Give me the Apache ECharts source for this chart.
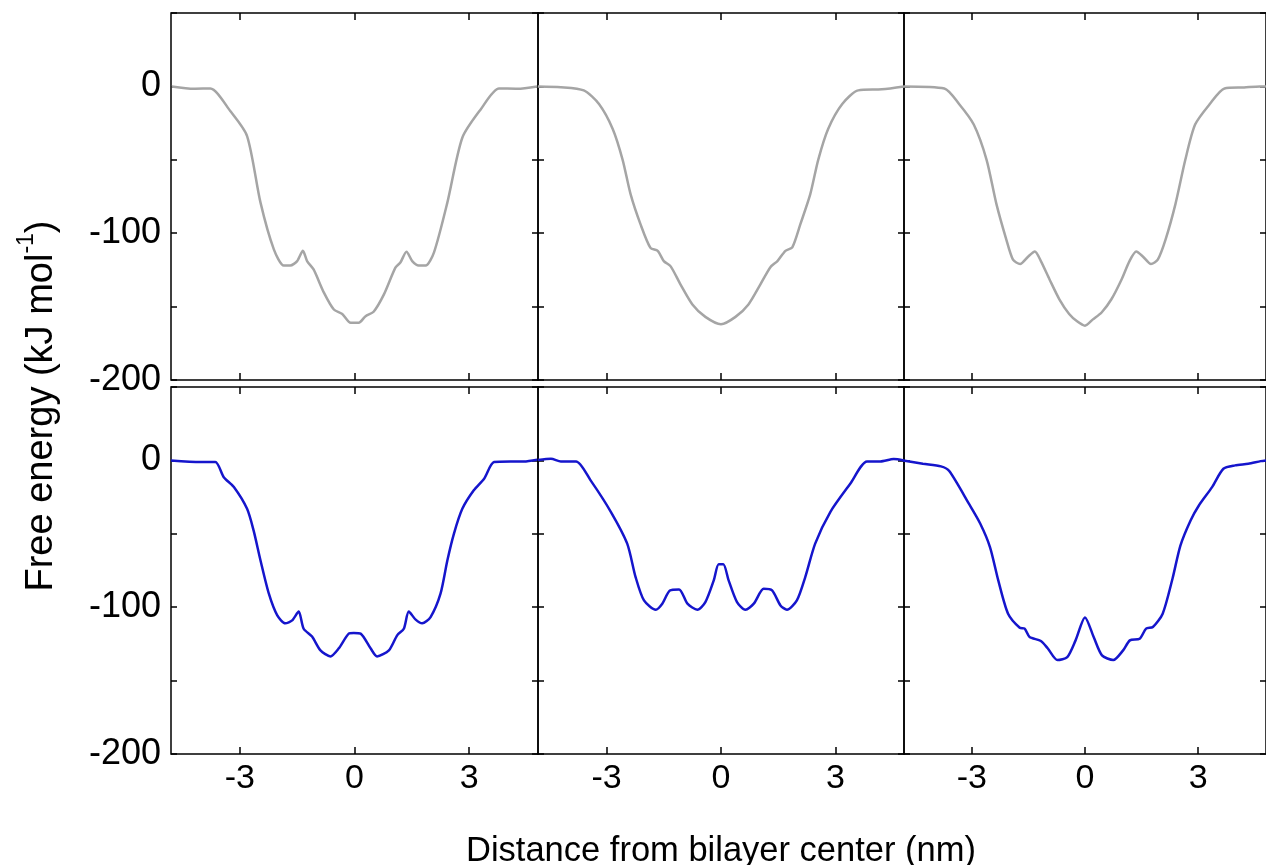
<!DOCTYPE html>
<html>
<head>
<meta charset="utf-8">
<script src="https://cdn.jsdelivr.net/npm/echarts@6/dist/echarts.min.js"></script>
<style>html,body{margin:0;padding:0;background:#fff}#c{width:1266px;height:865px}</style>
</head>
<body>
<div id="c"></div>
<script>
// x: distance from bilayer center (nm), y: free energy (kJ/mol)
var grayA = [[-4.78,0],[-4.2,-1.6],[-3.77,-1.4],[-3.25,-16.8],[-2.81,-33.8],[-2.46,-79],[-2.11,-111],[-1.85,-122],[-1.68,-122],[-1.5,-119],[-1.35,-112],[-1.24,-119],[-1.07,-124.7],[-0.8,-140.5],[-0.54,-152],[-0.32,-155],[-0.1,-161],[0.11,-161],[0.29,-156.5],[0.5,-153.5],[0.77,-141.7],[1.07,-123.5],[1.2,-120],[1.36,-112.6],[1.51,-119],[1.68,-122],[1.86,-122],[2.08,-113],[2.43,-79],[2.82,-35],[3.3,-15.7],[3.78,-1.4],[4.26,-1.6],[4.78,0]];
var grayB = [[-4.8,0],[-4.2,-0.5],[-3.6,-2.7],[-3.2,-12],[-2.84,-29],[-2.58,-50],[-2.37,-73.6],[-2.11,-94],[-1.85,-110],[-1.66,-112],[-1.5,-119],[-1.32,-122.6],[-1.06,-135],[-0.75,-148.5],[-0.41,-157],[0,-162],[0.38,-157],[0.72,-148.5],[1.03,-135],[1.3,-123],[1.48,-119],[1.69,-112],[1.87,-109.6],[2.08,-94],[2.34,-73.6],[2.55,-50],[2.81,-29],[3.18,-12],[3.6,-2.7],[4.22,-2],[4.8,0]];
var grayC = [[-4.8,0],[-3.73,-1.4],[-3.34,-12],[-2.95,-26],[-2.61,-50],[-2.35,-80],[-2.09,-104],[-1.91,-118],[-1.72,-121],[-1.51,-116],[-1.33,-112.5],[-1.17,-119],[-0.94,-131.5],[-0.68,-145],[-0.42,-155],[-0.21,-160],[0,-163],[0.21,-158.7],[0.44,-154],[0.7,-145],[0.97,-131.5],[1.18,-119],[1.36,-112.5],[1.54,-116],[1.75,-121],[1.93,-118],[2.14,-104],[2.4,-80],[2.66,-50],[2.92,-26],[3.31,-12],[3.7,-1.4],[4.22,-0.7],[4.64,0],[4.8,0]];
var blueA = [[-4.8,0],[-4.03,-1.1],[-3.64,-1.1],[-3.42,-11.4],[-3.16,-18],[-2.81,-33],[-2.64,-47.7],[-2.46,-68],[-2.24,-90.8],[-2.02,-105.6],[-1.81,-111],[-1.63,-109],[-1.46,-103],[-1.33,-114.7],[-1.11,-120],[-0.89,-129.4],[-0.63,-133.5],[-0.41,-128],[-0.15,-118],[-0.02,-117.5],[0.16,-118],[0.42,-128],[0.59,-133.5],[0.9,-129.4],[1.12,-119],[1.29,-114.7],[1.42,-103],[1.6,-108.5],[1.77,-111],[1.99,-106.7],[2.25,-90.8],[2.43,-68],[2.6,-50],[2.82,-33],[3.12,-20.4],[3.39,-12.5],[3.65,-1.1],[4.08,-0.7],[4.43,-0.7],[4.78,0.5]];
var blueB = [[-4.8,0.3],[-4.46,1.1],[-4.2,-0.7],[-3.8,-0.7],[-3.42,-13.6],[-2.89,-35],[-2.46,-56.7],[-2.24,-79.5],[-2.02,-95.4],[-1.71,-101.7],[-1.54,-97.6],[-1.34,-88.6],[-1.1,-87.9],[-0.88,-97.6],[-0.62,-101.7],[-0.41,-96.5],[-0.19,-81.7],[-0.06,-70.8],[0.06,-70.8],[0.2,-81.7],[0.42,-96.5],[0.64,-101.7],[0.86,-97.6],[1.12,-87.5],[1.34,-88.6],[1.56,-98.8],[1.73,-101.7],[1.99,-95.4],[2.21,-79.5],[2.47,-56.7],[2.87,-35],[3.39,-15.9],[3.83,-0.7],[4.18,-0.7],[4.53,0.9],[4.8,0]];
var blueC = [[-4.82,0],[-4.3,-2.3],[-3.82,-4.1],[-3.6,-7.3],[-3.08,-29.5],[-2.78,-43],[-2.52,-59],[-2.3,-81.7],[-2.04,-104.4],[-1.73,-114],[-1.6,-114.6],[-1.47,-120.3],[-1.17,-123],[-0.99,-128],[-0.73,-136],[-0.47,-134],[-0.25,-122.6],[0,-107],[0.23,-120.3],[0.45,-132.8],[0.75,-136],[1.01,-129.4],[1.19,-122.6],[1.45,-121.5],[1.62,-114.6],[1.8,-113.5],[2.06,-104.4],[2.32,-80.6],[2.53,-58],[2.8,-40.9],[3.02,-30.7],[3.37,-18.2],[3.67,-5.7],[3.98,-3.4],[4.33,-2.3],[4.66,-0.5],[4.8,0]];

var xTicks = [-3, 0, 3];
var yTicks = [-200, -150, -100, -50, 0, 50];
var yLabels = [-200, -100, 0];
var xTitle = 'Distance from bilayer center (nm)';
var yTitle = 'Free energy (kJ mol';

var panels = [grayA, grayB, grayC, blueA, blueB, blueC];
var lefts = [171, 538, 904];
var widths = [367, 366, 367];
var tops = [13, 387];
var FONT = 'Liberation Sans, Arial, sans-serif';

var grids = [], xAxes = [], yAxes = [], series = [];
for (var i = 0; i < 6; i++) {
  var r = Math.floor(i / 3), c = i % 3;
  grids.push({left: lefts[c], top: tops[r], width: widths[c], height: 367, show: true, borderColor: '#000', borderWidth: 1.5, backgroundColor: 'transparent'});
  ['bottom', 'top'].forEach(function (pos) {
    var showLab = (pos === 'bottom' && r === 1);
    xAxes.push({type: 'value', gridIndex: i, position: pos, min: -4.8, max: 4.8,
      axisLine: {show: false, onZero: false}, splitLine: {show: false},
      axisTick: {show: true, inside: true, length: 7, customValues: xTicks, lineStyle: {color: '#000', width: 1.5}},
      axisLabel: {show: showLab, customValues: xTicks, fontFamily: FONT, fontSize: 34, color: '#000', margin: 8}
    });
  });
  ['left', 'right'].forEach(function (pos) {
    var showLab = (pos === 'left' && c === 0);
    yAxes.push({type: 'value', gridIndex: i, position: pos, min: -200, max: 50,
      axisLine: {show: false, onZero: false}, splitLine: {show: false},
      axisTick: {show: true, inside: true, length: 6, customValues: yTicks, lineStyle: {color: '#000', width: 1.5}},
      axisLabel: {show: showLab, customValues: yLabels, fontFamily: FONT, fontSize: 36, color: '#000', margin: 10}
    });
  });
  series.push({type: 'line', xAxisIndex: i * 2, yAxisIndex: i * 2, data: panels[i], showSymbol: false, smooth: 0.25,
    lineStyle: {color: r === 0 ? '#a5a5a5' : '#1515cc', width: 2.5}, clip: true});
}

var chart = echarts.init(document.getElementById('c'), null, {renderer: 'canvas'});
chart.setOption({
  animation: false,
  backgroundColor: '#fff',
  grid: grids, xAxis: xAxes, yAxis: yAxes, series: series,
  graphic: [
    {type: 'text', x: 721, y: 851, style: {text: xTitle, font: '34.5px ' + FONT, fill: '#000', align: 'center', verticalAlign: 'middle'}},
    {type: 'text', x: 38, y: 406, rotation: Math.PI / 2, style: {
      text: '{m|' + yTitle + '}{s|-1}{m|)}',
      align: 'center', verticalAlign: 'middle',
      rich: {m: {fontFamily: FONT, fontSize: 38, lineHeight: 46, fill: '#000', verticalAlign: 'bottom'},
             s: {fontFamily: FONT, fontSize: 23, lineHeight: 26, fill: '#000', verticalAlign: 'top'}}
    }}
  ]
});
</script>
</body>
</html>
